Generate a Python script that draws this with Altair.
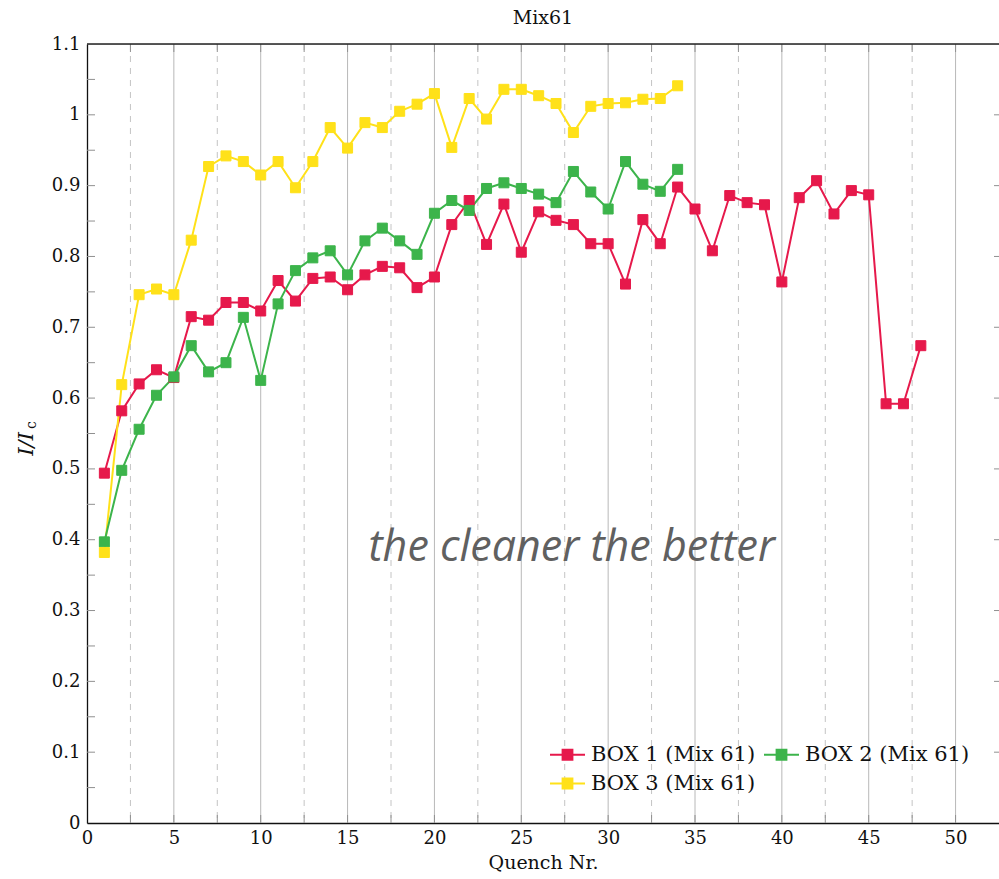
import altair as alt
import pandas as pd

# Quench number per series
quench_1 = list(range(1, 49))
quench_23 = list(range(1, 35))

box1 = [0.494, 0.582, 0.620, 0.640, 0.629, 0.715, 0.710, 0.735, 0.735, 0.723,
        0.766, 0.737, 0.769, 0.771, 0.753, 0.774, 0.786, 0.784, 0.756, 0.771,
        0.845, 0.879, 0.817, 0.874, 0.806, 0.863, 0.851, 0.845, 0.818, 0.818,
        0.761, 0.852, 0.818, 0.898, 0.867, 0.808, 0.886, 0.876, 0.873, 0.764,
        0.883, 0.907, 0.860, 0.893, 0.887, 0.592, 0.592, 0.674]
box2 = [0.397, 0.498, 0.556, 0.604, 0.630, 0.674, 0.637, 0.650, 0.714, 0.625,
        0.733, 0.780, 0.798, 0.808, 0.774, 0.822, 0.840, 0.822, 0.803, 0.861,
        0.879, 0.865, 0.896, 0.904, 0.896, 0.888, 0.876, 0.920, 0.891, 0.867,
        0.934, 0.902, 0.892, 0.923]
box3 = [0.382, 0.619, 0.746, 0.754, 0.746, 0.823, 0.927, 0.942, 0.934, 0.915,
        0.934, 0.897, 0.934, 0.982, 0.953, 0.989, 0.982, 1.005, 1.015, 1.030,
        0.954, 1.023, 0.994, 1.036, 1.036, 1.027, 1.016, 0.975, 1.012, 1.016,
        1.017, 1.022, 1.023, 1.041]

series_names = ["BOX 1 (Mix 61)", "BOX 2 (Mix 61)", "BOX 3 (Mix 61)"]
series_colors = ["#e6194b", "#3cb44b", "#ffe119"]

x_major = [0, 5, 10, 15, 20, 25, 30, 35, 40, 45, 50]
x_minor = [2.5, 7.5, 12.5, 17.5, 22.5, 27.5, 32.5, 37.5, 42.5, 47.5]
y_ticks = [round(0.1 * i, 1) for i in range(12)]
y_minor = [round(0.05 + 0.1 * i, 2) for i in range(11)]

title_text = "Mix61"
x_title = "Quench Nr."
note_text = "the cleaner the better"

W, H = 912, 779
SERIF = "DejaVu Serif"

rows = []
for name, xs, ys in [(series_names[0], quench_1, box1),
                     (series_names[2], quench_23, box3),
                     (series_names[1], quench_23, box2)]:
    for q, v in zip(xs, ys):
        rows.append({"quench": q, "ratio": v, "series": name,
                     "order": series_names.index(name)})
df = pd.DataFrame(rows)

xs = alt.Scale(domain=[0, 52.5], nice=False, zero=False)
ys = alt.Scale(domain=[0, 1.1], nice=False)
color_scale = alt.Scale(domain=series_names, range=series_colors)

# one legend shared by the stroke and fill channels: a short line with a square on it
legend_path = "M-1,0H1M-0.28,-0.28H0.28V0.28H-0.28Z"
def series_legend():
    return alt.Legend(title=None, orient="none", legendX=462, legendY=692,
                      direction="horizontal", columns=2, columnPadding=4,
                      rowPadding=-6, symbolType=legend_path, symbolSize=1225,
                      symbolStrokeWidth=2, labelFont=SERIF, labelFontSize=21,
                      labelColor="#111111", labelOffset=5, labelLimit=300)

# vertical grid: solid majors, dashed minors
grid_major = alt.Chart(pd.DataFrame({"x": x_major[1:]})).mark_rule(
    color="#b8b8b8", strokeWidth=1).encode(x=alt.X("x:Q", scale=xs))
grid_minor = alt.Chart(pd.DataFrame({"x": x_minor})).mark_rule(
    color="#c4c4c4", strokeWidth=1, strokeDash=[6, 6]).encode(
    x=alt.X("x:Q", scale=xs))

# inward tick marks on the frame
xt = pd.DataFrame({"x": x_major[1:] + x_minor})
ticks_bottom = alt.Chart(xt).mark_rule(color="#909090", strokeWidth=1).encode(
    x=alt.X("x:Q", scale=xs), y=alt.value(H - 8), y2=alt.value(H))
ticks_top = alt.Chart(xt).mark_rule(color="#909090", strokeWidth=1).encode(
    x=alt.X("x:Q", scale=xs), y=alt.value(0), y2=alt.value(8))
yl = pd.DataFrame({"y": y_ticks[1:-1] + y_minor})
ticks_left = alt.Chart(yl).mark_rule(color="#909090", strokeWidth=1).encode(
    y=alt.Y("y:Q", scale=ys), x=alt.value(0), x2=alt.value(8))
ticks_right = alt.Chart(pd.DataFrame({"y": y_ticks[1:-1]})).mark_rule(
    color="#909090", strokeWidth=1).encode(
    y=alt.Y("y:Q", scale=ys), x=alt.value(W - 5), x2=alt.value(W))
top_line = alt.Chart(pd.DataFrame({"y": [1.1]})).mark_rule(
    color="#222222", strokeWidth=1.3).encode(
    y=alt.Y("y:Q", scale=ys), x=alt.value(0), x2=alt.value(W))

base = alt.Chart(df)

lines = base.mark_line(strokeWidth=2).encode(
    x=alt.X("quench:Q", scale=xs,
            axis=alt.Axis(values=x_major, title=x_title, grid=False, ticks=False,
                          domainColor="#111111", domainWidth=1.3,
                          labelFont=SERIF, labelFontSize=18, labelColor="#111111",
                          labelPadding=6, titleFont=SERIF, titleFontSize=19,
                          titleFontWeight="normal", titleColor="#111111",
                          titlePadding=6, labelFlush=False)),
    y=alt.Y("ratio:Q", scale=ys,
            axis=alt.Axis(values=y_ticks, title=None, grid=False, ticks=False,
                          domainColor="#111111", domainWidth=1.3,
                          labelFont=SERIF, labelFontSize=18, labelColor="#111111",
                          labelPadding=7, labelExpr="format(datum.value, '~g')",
                          labelFlush=False)),
    stroke=alt.Stroke("series:N", scale=color_scale, legend=series_legend()),
    detail="series:N",
)

points = base.mark_point(shape="square", size=100, filled=True, opacity=1,
                         strokeWidth=1).encode(
    x=alt.X("quench:Q", scale=xs),
    y=alt.Y("ratio:Q", scale=ys),
    fill=alt.Fill("series:N", scale=color_scale, legend=series_legend()),
    stroke=alt.Stroke("series:N", scale=color_scale, legend=series_legend()),
    order="order:Q",
)

note = alt.Chart(pd.DataFrame({"x": [27.9], "y": [0.37], "t": [note_text]})).mark_text(
    font="Open Sans", fontStyle="italic", fontSize=43, color="#606060",
    align="center", baseline="alphabetic").encode(
    x=alt.X("x:Q", scale=xs), y=alt.Y("y:Q", scale=ys), text="t:N")

# y-axis label I/I_c built from two text pieces
ylab_main = alt.Chart(pd.DataFrame({"t": ["I/I"]})).mark_text(
    font=SERIF, fontStyle="italic", fontSize=21, color="#111111",
    angle=270, align="center", baseline="middle").encode(
    x=alt.value(-60), y=alt.value(400), text="t:N")
ylab_sub = alt.Chart(pd.DataFrame({"t": ["c"]})).mark_text(
    font=SERIF, fontSize=14, color="#111111",
    angle=270, align="center", baseline="middle").encode(
    x=alt.value(-55), y=alt.value(381), text="t:N")

chart = alt.layer(
    grid_major, grid_minor, ticks_bottom, ticks_top, ticks_left, ticks_right,
    lines, points, top_line, note, ylab_main, ylab_sub,
).properties(
    width=W, height=H,
    title=alt.TitleParams(title_text, font=SERIF, fontSize=19, fontWeight="normal",
                          color="#111111", anchor="middle", offset=7),
    autosize=alt.AutoSizeParams(type="none"),
    padding={"left": 87, "top": 44, "right": 0, "bottom": 56},
).configure_view(stroke=None).configure(background="white")

chart.save("out.html", embed_options={"renderer": "svg", "actions": False})
